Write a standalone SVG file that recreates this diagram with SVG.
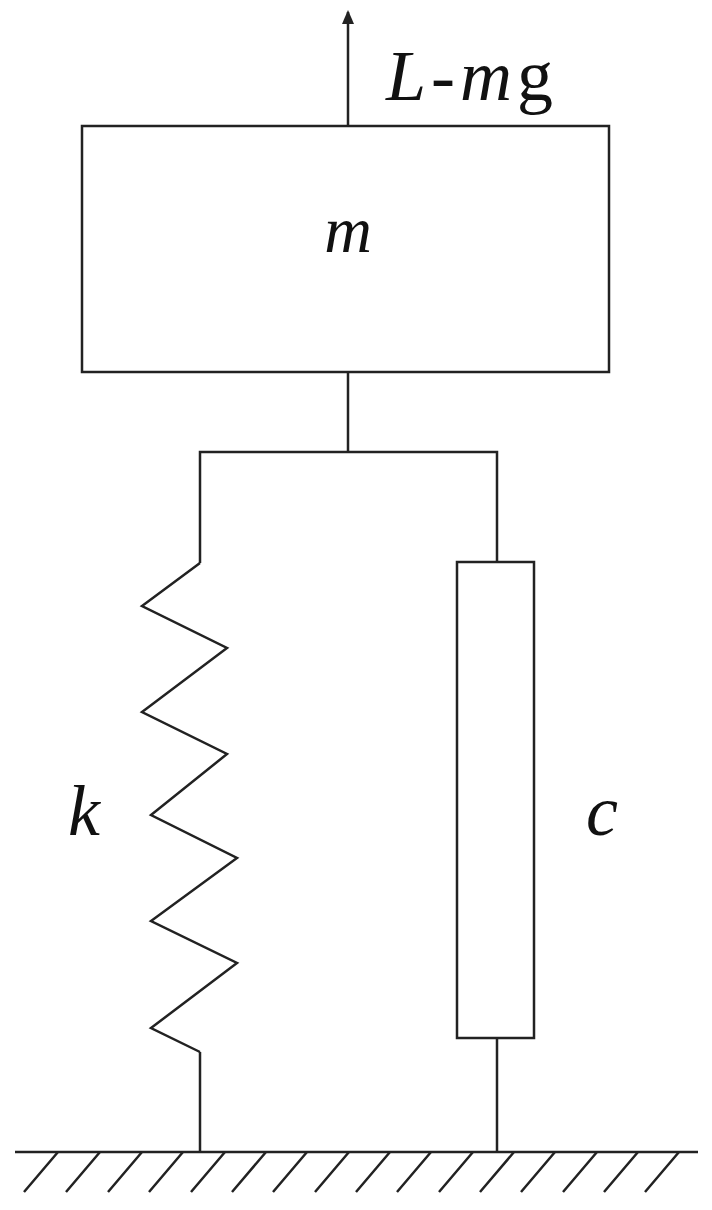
<svg xmlns="http://www.w3.org/2000/svg" width="712" height="1210" viewBox="0 0 712 1210">
<style>
.l{stroke:#222;stroke-width:2.5;fill:none}
.t{font-family:"Liberation Serif",serif;font-style:italic;fill:#111}
</style>
<defs><marker id="ah" markerWidth="14" markerHeight="12" refX="12" refY="6" orient="auto" markerUnits="userSpaceOnUse" viewBox="0 0 14 12"><path d="M0,0 L14,6 L0,12 Z" fill="#222"/></marker></defs>
<rect width="712" height="1210" fill="#fff"/>
<g id="mass"><rect class="l" x="82" y="126" width="527" height="246"/><text class="t" x="348" y="252" font-size="66" text-anchor="middle">m</text></g>
<g id="force"><text class="t" x="386" y="100" font-size="72" letter-spacing="5">L-m<tspan font-style="normal">g</tspan></text></g>
<g id="spring"><polyline class="l" points="200,563 142,606 227,648 142,712 227,754 151,815 237,858 151,921 237,963 151,1028 200,1052"/><text class="t" x="68" y="835" font-size="72">k</text></g>
<g id="damper"><rect class="l" x="457" y="562" width="77" height="476"/><text class="t" x="586" y="835" font-size="72">c</text></g>
<g id="ground"><line class="l" x1="15" y1="1152" x2="698" y2="1152"/>
<path class="l" stroke-width="2" d="M58,1152 l-34,40 M100,1152 l-34,40 M142,1152 l-34,40 M183,1152 l-34,40 M225,1152 l-34,40 M266,1152 l-34,40 M307,1152 l-34,40 M349,1152 l-34,40 M390,1152 l-34,40 M431,1152 l-34,40 M473,1152 l-34,40 M514,1152 l-34,40 M555,1152 l-34,40 M597,1152 l-34,40 M638,1152 l-34,40 M679,1152 l-34,40"/></g>
<g id="connectors">
<line class="l" x1="348" y1="126" x2="348" y2="12" marker-end="url(#ah)"/>
<polyline class="l" points="348,372 348,452"/>
<polyline class="l" points="200,1152 200,1052"/>
<polyline class="l" points="200,563 200,452 497,452 497,562"/>
<polyline class="l" points="497,1038 497,1152"/>
</g>
</svg>
